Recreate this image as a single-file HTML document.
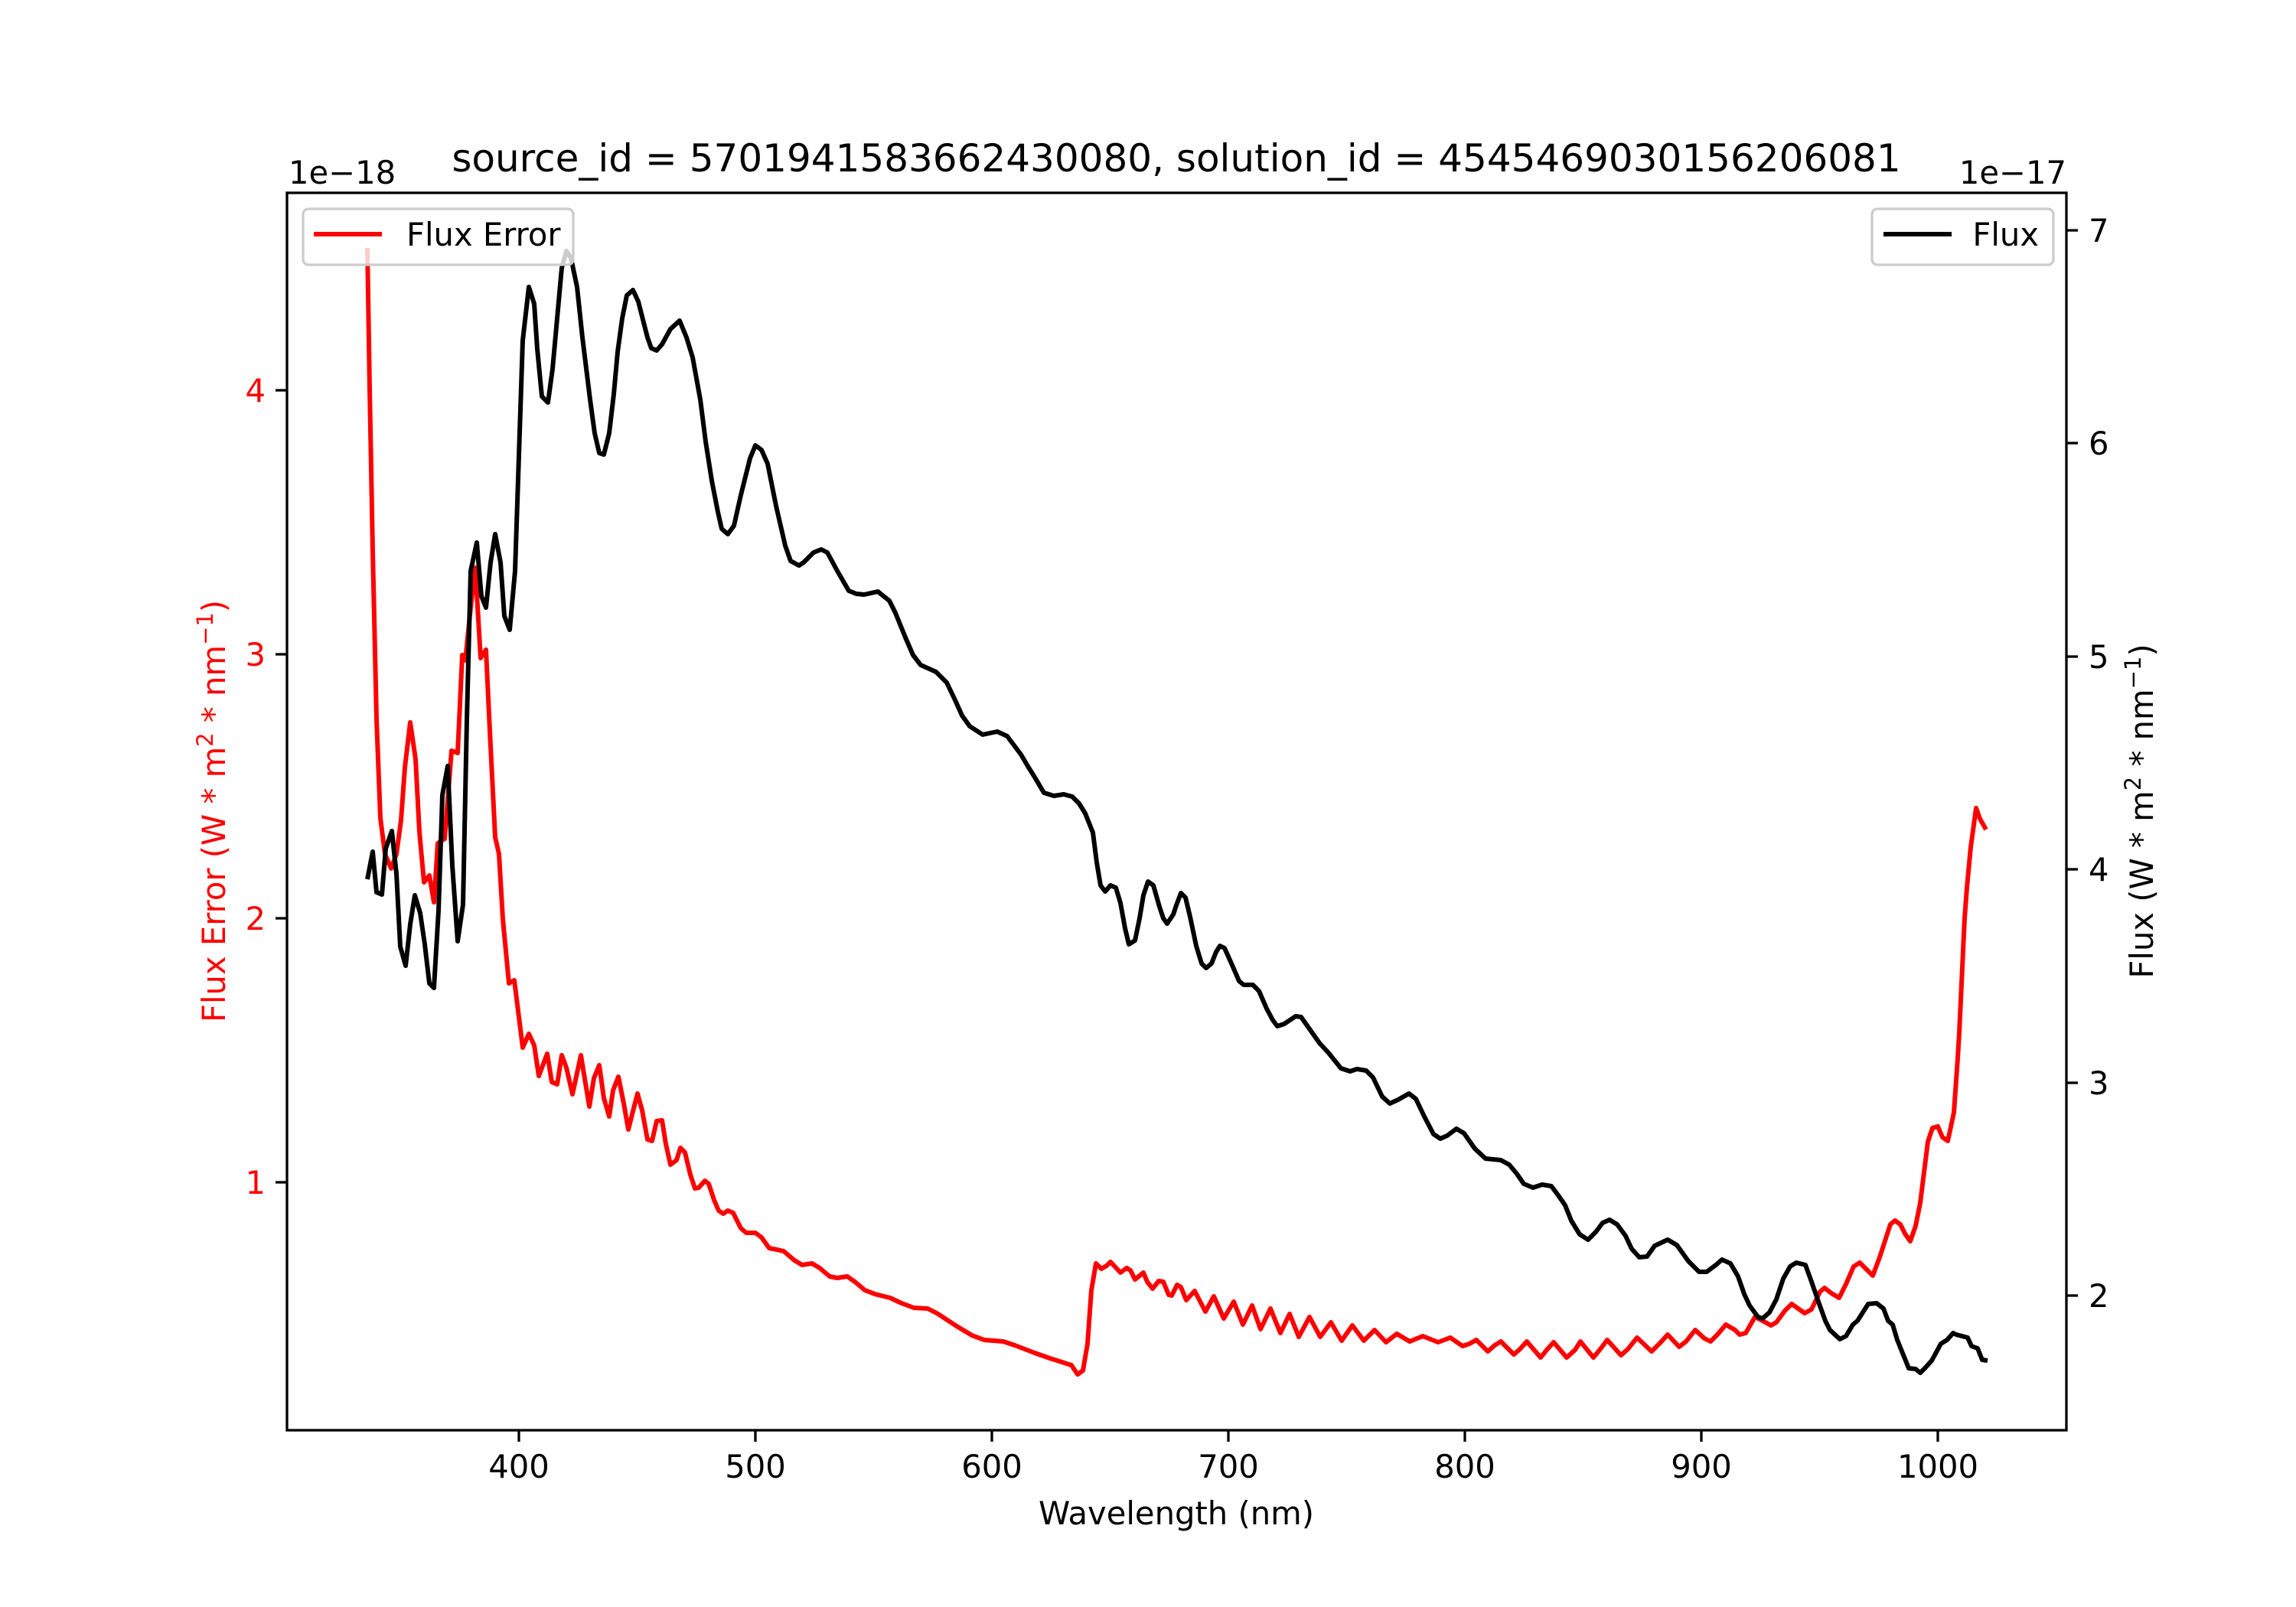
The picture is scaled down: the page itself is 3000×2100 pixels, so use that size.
<!DOCTYPE html>
<html><head><meta charset="utf-8"><style>
html,body{margin:0;padding:0;background:#fff;}
svg{display:block;}
text{font-family:"DejaVu Sans","Liberation Sans",sans-serif;}
</style></head><body>
<svg width="3000" height="2100" viewBox="0 0 3000 2100" xmlns="http://www.w3.org/2000/svg">
<rect width="3000" height="2100" fill="#fff"/>
<text x="1537" y="224" font-size="50" text-anchor="middle">source_id = 5701941583662430080, solution_id = 4545469030156206081</text>
<text x="377" y="240" font-size="41.7">1e−18</text>
<text x="2700" y="240" font-size="41.7" text-anchor="end">1e−17</text>

<polyline fill="none" stroke="#ff0000" stroke-width="6" stroke-linejoin="round" points="480,324 483,507 487,720 492,940 497,1069 503,1116 511,1135 518,1116 524,1072 529,1003 536,944 543,992 548,1087 554,1153 561,1144 567,1179 572,1102 581,1096 590,981 598,984 604,856 608,863 615,794 621,742 628,860 635,849 640,955 647,1094 652,1116 657,1201 665,1285 672,1281 683,1369 691,1351 698,1366 704,1406 715,1377 721,1414 728,1417 734,1379 740,1395 748,1430 759,1379 770,1446 776,1409 783,1392 789,1435 796,1459 801,1425 808,1407 815,1442 821,1476 826,1456 833,1429 839,1451 846,1489 852,1491 858,1465 865,1464 870,1495 876,1522 884,1516 889,1500 895,1506 902,1535 908,1553 913,1552 921,1543 926,1547 933,1568 939,1582 945,1586 951,1582 958,1585 968,1605 975,1611 987,1611 995,1617 1005,1631 1015,1633 1024,1635 1038,1647 1048,1653 1061,1651 1071,1657 1084,1668 1094,1670 1107,1668 1117,1675 1130,1686 1143,1691 1163,1696 1178,1703 1194,1709 1212,1710 1224,1716 1250,1733 1270,1745 1286,1751 1311,1753 1326,1758 1352,1768 1372,1775 1400,1784 1408,1796 1415,1791 1421,1756 1426,1686 1432,1651 1439,1658 1446,1654 1451,1649 1464,1663 1472,1657 1477,1660 1483,1672 1494,1663 1499,1675 1506,1684 1514,1674 1520,1675 1527,1692 1531,1693 1538,1679 1543,1682 1550,1699 1561,1687 1575,1714 1586,1694 1599,1723 1612,1701 1624,1731 1636,1706 1647,1737 1660,1710 1673,1742 1685,1717 1697,1747 1711,1721 1725,1747 1739,1728 1753,1752 1767,1732 1782,1752 1796,1738 1811,1754 1825,1743 1842,1753 1859,1746 1879,1754 1895,1748 1911,1759 1920,1756 1929,1751 1944,1766 1953,1758 1961,1753 1978,1770 1986,1763 1995,1753 2013,1774 2021,1764 2030,1754 2047,1774 2058,1764 2065,1753 2082,1774 2091,1763 2100,1751 2118,1771 2127,1763 2139,1748 2158,1766 2170,1754 2179,1744 2194,1760 2203,1753 2215,1738 2227,1749 2235,1753 2244,1744 2255,1731 2267,1738 2273,1744 2281,1742 2293,1721 2303,1726 2314,1732 2321,1728 2332,1713 2341,1704 2358,1716 2367,1711 2378,1688 2384,1683 2393,1690 2403,1696 2412,1678 2422,1655 2430,1650 2438,1658 2447,1667 2456,1643 2470,1600 2476,1595 2483,1600 2489,1612 2496,1622 2503,1602 2509,1572 2519,1492 2525,1474 2532,1472 2538,1486 2545,1491 2553,1454 2558,1383 2560,1350 2567,1200 2570,1160 2575,1107 2582,1056 2587,1070 2595,1084"/>

<polyline fill="none" stroke="#000" stroke-width="6" stroke-linejoin="round" points="480,1149 487,1113 492,1166 499,1169 504,1109 512,1086 518,1142 523,1237 530,1262 536,1208 542,1170 549,1193 555,1234 561,1285 567,1291 573,1190 578,1039 585,1001 591,1131 598,1230 605,1182 610,940 615,746 623,709 629,779 635,794 641,735 647,698 654,735 659,805 666,823 673,746 683,445 691,375 698,397 702,456 708,518 716,526 722,482 729,405 734,350 740,328 746,337 754,375 761,441 771,522 777,566 783,592 789,594 796,566 802,515 807,460 813,416 819,386 827,379 834,394 846,441 851,455 858,458 865,450 876,430 888,419 897,441 905,467 915,522 922,577 930,628 938,669 943,691 951,698 959,687 968,647 980,599 987,582 995,588 1003,606 1014,661 1026,713 1033,733 1044,739 1050,735 1063,722 1073,718 1081,722 1094,746 1109,772 1119,776 1129,777 1147,773 1162,785 1170,801 1183,833 1193,856 1203,869 1223,878 1237,892 1248,915 1257,935 1267,949 1284,960 1303,956 1316,962 1334,986 1344,1003 1351,1014 1364,1036 1377,1040 1390,1038 1401,1041 1410,1050 1418,1063 1428,1088 1433,1127 1438,1157 1444,1165 1451,1157 1458,1160 1464,1180 1470,1213 1475,1234 1483,1229 1489,1200 1494,1170 1500,1152 1507,1157 1515,1185 1520,1200 1525,1207 1533,1195 1537,1183 1543,1167 1549,1173 1555,1198 1563,1236 1570,1259 1576,1265 1583,1259 1589,1244 1594,1236 1600,1239 1609,1259 1619,1282 1625,1287 1637,1287 1645,1295 1655,1318 1663,1333 1669,1341 1678,1338 1693,1328 1700,1329 1712,1346 1724,1363 1736,1376 1752,1396 1764,1400 1773,1397 1785,1399 1794,1408 1806,1433 1816,1442 1827,1437 1841,1429 1850,1436 1861,1459 1873,1482 1882,1488 1891,1484 1903,1475 1913,1481 1927,1501 1941,1514 1961,1516 1972,1522 1982,1534 1991,1547 2003,1552 2015,1548 2027,1550 2036,1562 2045,1575 2053,1595 2064,1613 2075,1620 2085,1610 2094,1598 2103,1594 2113,1600 2124,1615 2132,1632 2142,1643 2152,1642 2162,1628 2179,1620 2191,1627 2206,1648 2220,1662 2230,1662 2242,1653 2250,1646 2261,1651 2271,1668 2279,1691 2286,1706 2297,1721 2303,1723 2312,1715 2321,1698 2330,1671 2339,1655 2347,1650 2359,1653 2367,1675 2376,1701 2385,1726 2391,1738 2404,1750 2412,1746 2421,1731 2427,1726 2441,1704 2452,1703 2461,1710 2467,1726 2473,1731 2479,1751 2494,1788 2503,1789 2509,1794 2515,1788 2524,1778 2536,1756 2544,1751 2552,1742 2556,1744 2571,1748 2576,1759 2584,1762 2590,1777 2597,1778"/>

<rect x="375" y="252" width="2325" height="1617" fill="none" stroke="#000" stroke-width="3.3"/>

<g stroke="#000" stroke-width="3.3">
<line x1="678" y1="1869" x2="678" y2="1884"/><line x1="987" y1="1869" x2="987" y2="1884"/><line x1="1296" y1="1869" x2="1296" y2="1884"/><line x1="1605" y1="1869" x2="1605" y2="1884"/><line x1="1914" y1="1869" x2="1914" y2="1884"/><line x1="2223" y1="1869" x2="2223" y2="1884"/><line x1="2532" y1="1869" x2="2532" y2="1884"/>
<line x1="360" y1="1545" x2="375" y2="1545"/><line x1="360" y1="1200" x2="375" y2="1200"/><line x1="360" y1="855" x2="375" y2="855"/><line x1="360" y1="510" x2="375" y2="510"/>
<line x1="2700" y1="1693" x2="2715" y2="1693"/><line x1="2700" y1="1415" x2="2715" y2="1415"/><line x1="2700" y1="1136" x2="2715" y2="1136"/><line x1="2700" y1="858" x2="2715" y2="858"/><line x1="2700" y1="579" x2="2715" y2="579"/><line x1="2700" y1="301" x2="2715" y2="301"/>
</g>
<g font-size="41.7" text-anchor="middle">
<text x="678" y="1931">400</text><text x="987" y="1931">500</text><text x="1296" y="1931">600</text><text x="1605" y="1931">700</text><text x="1914" y="1931">800</text><text x="2223" y="1931">900</text><text x="2532" y="1931">1000</text>
</g>
<g font-size="41.7" text-anchor="end" fill="#ff0000">
<text x="347" y="1560">1</text><text x="347" y="1215">2</text><text x="347" y="870">3</text><text x="347" y="525">4</text>
</g>
<g font-size="41.7">
<text x="2729" y="1708">2</text><text x="2729" y="1430">3</text><text x="2729" y="1151">4</text><text x="2729" y="873">5</text><text x="2729" y="594">6</text><text x="2729" y="316">7</text>
</g>
<text x="1537" y="1992" font-size="41.7" text-anchor="middle">Wavelength (nm)</text>
<text transform="translate(294,1060) rotate(-90)" font-size="41.7" text-anchor="middle" fill="#ff0000">Flux Error (W * m<tspan dy="-16" font-size="29">2</tspan><tspan dy="16"> * nm</tspan><tspan dy="-16" font-size="29">−1</tspan><tspan dy="16">)</tspan></text>
<text transform="translate(2813,1060) rotate(-90)" font-size="41.7" text-anchor="middle">Flux (W * m<tspan dy="-16" font-size="29">2</tspan><tspan dy="16"> * nm</tspan><tspan dy="-16" font-size="29">−1</tspan><tspan dy="16">)</tspan></text>

<rect x="396" y="273" width="353" height="73" rx="7" fill="#fff" fill-opacity="0.8" stroke="#cccccc" stroke-width="3.3"/>
<line x1="410" y1="306" x2="499" y2="306" stroke="#ff0000" stroke-width="6"/>
<text x="531" y="321" font-size="41.7">Flux Error</text>
<rect x="2446" y="273" width="237" height="73" rx="7" fill="#fff" fill-opacity="0.8" stroke="#cccccc" stroke-width="3.3"/>
<line x1="2461" y1="306" x2="2550" y2="306" stroke="#000" stroke-width="6"/>
<text x="2664" y="321" font-size="41.7" text-anchor="end">Flux</text>
</svg>
</body></html>
